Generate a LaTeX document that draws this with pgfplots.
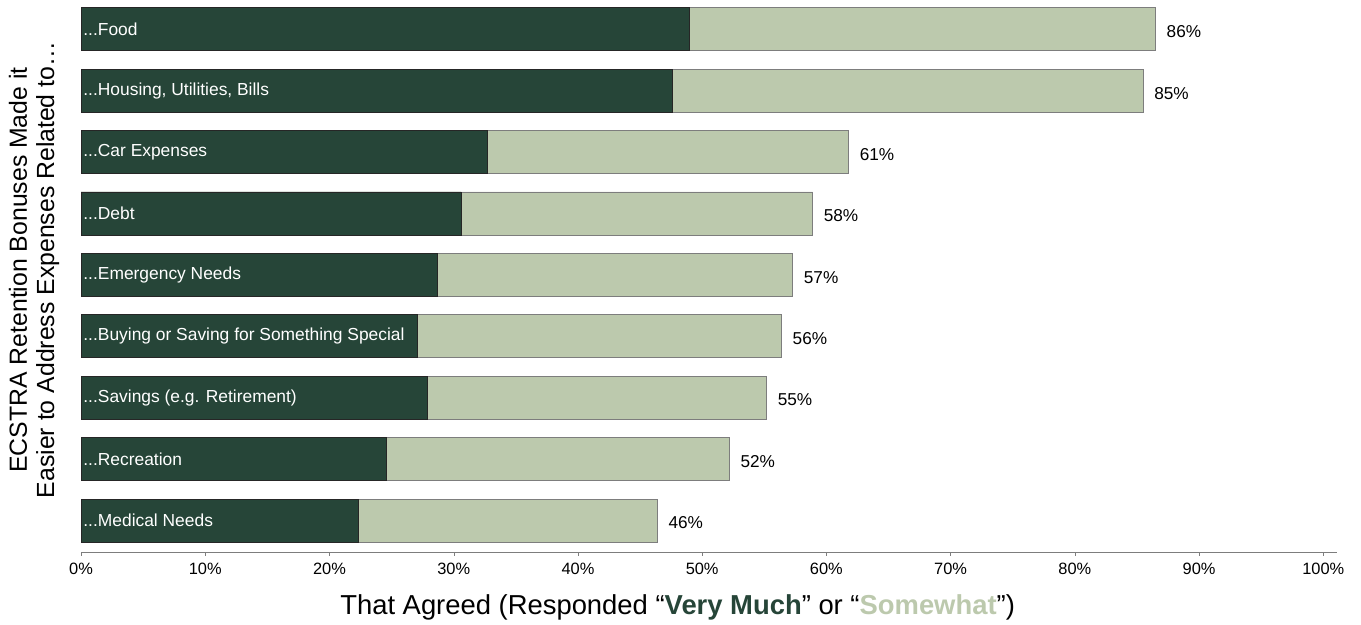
\documentclass[border=0pt]{standalone}
\usepackage{pgfplots}
\pgfplotsset{compat=1.18}
\usepackage{fontspec}
\setmainfont{Liberation Sans}
\usetikzlibrary{calc}
\definecolor{dk}{RGB}{38,69,56}
\definecolor{lt}{RGB}{188,201,173}
\definecolor{edge}{RGB}{125,125,125}
\newcommand{\dd}{{.}{.}{.}}
\begin{document}
\begin{tikzpicture}
\begin{axis}[name=ax,
  scale only axis, width=628pt, height=276pt,
  xbar, bar shift=0pt, bar width=0.7,
  xmin=0, xmax=101.1, ymin=-0.513, ymax=8.477,
  axis x line*=bottom, axis y line*=left,
  x axis line style={draw=edge, -},
  y axis line style={draw=none},
  xtick={0,10,20,30,40,50,60,70,80,90,100},
  xticklabel={\pgfmathprintnumber{\tick}\%},
  /pgf/number format/assume math mode=true,
  tick align=outside, major tick length=2pt,
  xtick style={draw=edge},
  ytick style={draw=none},
  xticklabel style={font=\fontsize{8.2}{10}\selectfont},
  ytick={0,1,2,3,4,5,6,7,8},
  yticklabels={{\dd Medical Needs},{\dd Recreation},{\dd Savings (e.g. Retirement)},{\dd Buying or Saving for Something Special},{\dd Emergency Needs},{\dd Debt},{\dd Car Expenses},{\dd Housing, Utilities, Bills},{\dd Food}},
  yticklabel style={anchor=west, text=white, font=\fontsize{8.7}{10}\selectfont, inner sep=1pt, xshift=2pt},
  axis on top,
  xlabel={That Agreed (Responded “\textbf{\textcolor{dk}{Very Much}}” or “\textbf{\textcolor{lt}{Somewhat}}”)},
  xlabel style={at={(axis description cs:0.475,0)}, anchor=center, yshift=-27.5pt, font=\fontsize{13.7}{16}\selectfont},
  ylabel={ECSTRA Retention Bonuses Made it\\Easier to Address Expenses Related to…},
  ylabel style={at={(axis description cs:0,0.511)}, anchor=center, yshift=23.5pt, align=center, font=\fontsize{12.4}{13.6}\selectfont},
]
% total (light) bars with value labels
\addplot[fill=lt, draw=edge, line width=0.4pt,
  point meta=explicit,
  nodes near coords={\pgfmathprintnumber{\pgfplotspointmeta}\%},
  every node near coord/.append style={font=\fontsize{8.6}{10}\selectfont, text=black, anchor=west, xshift=2pt, yshift=-1.2pt}]
  table[x=t, y=y, meta=lab] {
t y lab
46.4 0 46
52.2 1 52
55.2 2 55
56.4 3 56
57.3 4 57
58.9 5 58
61.8 6 61
85.5 7 85
86.5 8 86
};
% "Very Much" (dark) bars
\addplot[fill=dk, draw=black!85, line width=0.4pt] coordinates {
(22.3,0) (24.6,1) (27.9,2) (27.1,3) (28.7,4) (30.6,5) (32.7,6) (47.6,7) (49.0,8)};
\end{axis}
\pgfresetboundingbox
\path[use as bounding box] ($(ax.south west)+(-40.5pt,-36.5pt)$) rectangle ($(ax.north east)+(12pt,0pt)$);
\end{tikzpicture}
\end{document}
